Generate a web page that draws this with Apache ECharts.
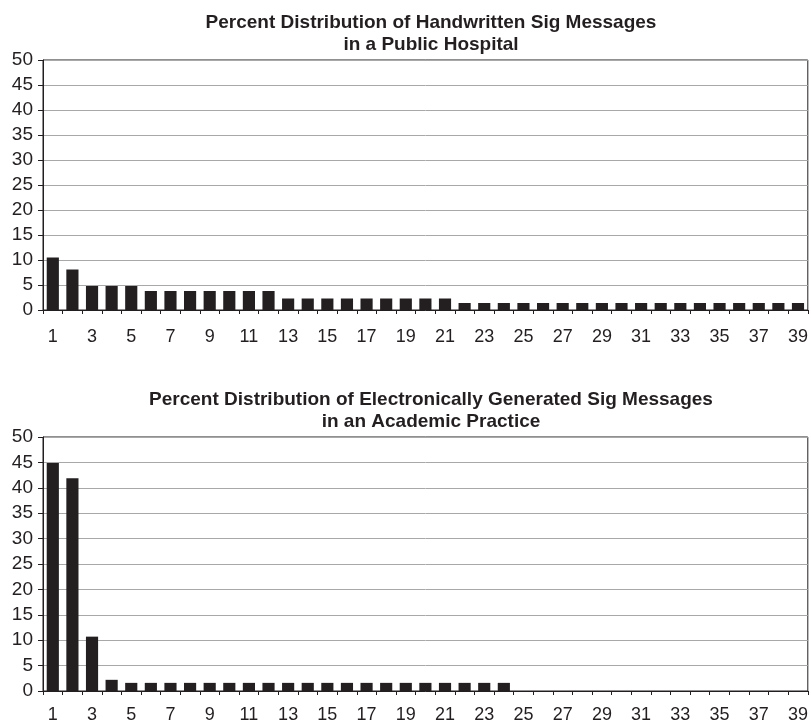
<!DOCTYPE html>
<html><head><meta charset="utf-8">
<script src="https://cdn.jsdelivr.net/npm/echarts@6/dist/echarts.min.js"></script>
<style>html,body{margin:0;padding:0;background:#fff}#c{width:811px;height:724px}</style>
</head><body><div id="c"></div>
<script>
const categories = Array.from({length:39},(_,i)=>String(i+1));
const hospitalValues = [10.5,8.1,4.8,4.8,4.8,3.8,3.8,3.8,3.8,3.8,3.8,3.8,2.3,2.3,2.3,2.3,2.3,2.3,2.3,2.3,2.3,
  1.4,1.4,1.4,1.4,1.4,1.4,1.4,1.4,1.4,1.4,1.4,1.4,1.4,1.4,1.4,1.4,1.4,1.4];
const academicValues = [44.9,41.9,10.7,2.2,1.6,1.6,1.6,1.6,1.6,1.6,1.6,1.6,1.6,1.6,1.6,1.6,1.6,1.6,1.6,1.6,1.6,1.6,1.6,1.6,
  0,0,0,0,0,0,0,0,0,0,0,0,0,0,0];
const titles = ["Percent Distribution of Handwritten Sig Messages\nin a Public Hospital",
  "Percent Distribution of Electronically Generated Sig Messages\nin an Academic Practice"];
const yTicks = {min:0,max:50,interval:5};

const font = "'Liberation Sans', Arial, sans-serif";
const ink = '#231f20';
const chart = echarts.init(document.getElementById('c'));
function xAxis(g,m){return {type:'category',gridIndex:g,data:categories,boundaryGap:true,
  axisLine:{lineStyle:{color:ink,width:1}},
  axisTick:{show:true,interval:0,alignWithLabel:false,length:4,lineStyle:{color:ink}},
  axisLabel:{interval:1,color:ink,fontSize:18,fontFamily:font,margin:m}};}
function yAxis(g){return {type:'value',gridIndex:g,min:yTicks.min,max:yTicks.max,interval:yTicks.interval,
  axisLine:{show:true,lineStyle:{color:ink}},
  axisTick:{show:true,length:5,lineStyle:{color:ink}},
  splitLine:{show:true,lineStyle:{color:'#a8a8a8',width:1}},
  axisLabel:{color:ink,fontSize:19,fontFamily:font,margin:10}};}
const tStyle = {fontSize:19,fontWeight:'bold',color:ink,fontFamily:font,lineHeight:22};
chart.setOption({
  animation:false,
  title:[
    {text:titles[0],left:426,top:7,textAlign:'center',textStyle:tStyle},
    {text:titles[1],left:426,top:384,textAlign:'center',textStyle:tStyle}
  ],
  grid:[
    {left:43,width:765,top:60,height:250,show:true,borderColor:ink,borderWidth:1,backgroundColor:'transparent'},
    {left:43,width:765,top:437,height:257,show:true,borderColor:ink,borderWidth:1,backgroundColor:'transparent'}
  ],
  xAxis:[xAxis(0,18),xAxis(1,15)],
  yAxis:[yAxis(0),yAxis(1)],
  series:[
    {type:'bar',xAxisIndex:0,yAxisIndex:0,data:hospitalValues,barCategoryGap:'38%',itemStyle:{color:ink}},
    {type:'bar',xAxisIndex:1,yAxisIndex:1,data:academicValues,barCategoryGap:'38%',itemStyle:{color:ink}}
  ]
});
</script></body></html>
